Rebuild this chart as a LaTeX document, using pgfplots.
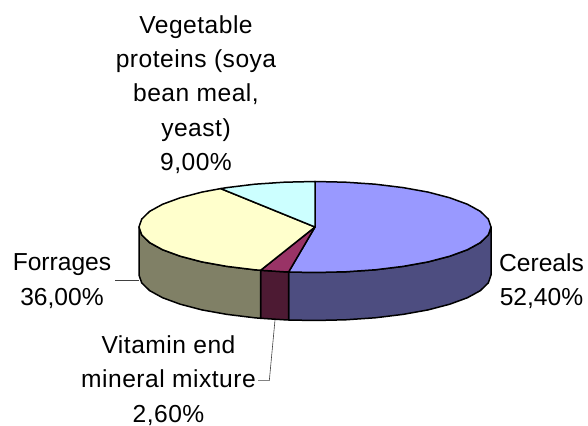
\documentclass[border=0pt]{standalone}
\usepackage{pgfplots}
\pgfplotsset{compat=1.18}
\usepackage{fontspec}
\setmainfont{Liberation Sans}
\definecolor{ctop}{HTML}{9999FF}
\definecolor{cside}{HTML}{4D4D80}
\definecolor{vtop}{HTML}{993366}
\definecolor{vside}{HTML}{4D1A33}
\definecolor{ftop}{HTML}{FFFFCC}
\definecolor{fside}{HTML}{808066}
\definecolor{ptop}{HTML}{CCFFFF}
\tikzset{lab/.style={font=\fontsize{24.6}{34.3}\selectfont, align=center, inner sep=0pt, text=black},
 labw/.style={font=\fontsize{24.6}{34.3}\selectfont\addfontfeature{LetterSpace=2}, align=center, inner sep=0pt, text=black}}
\begin{document}
\begin{tikzpicture}
\useasboundingbox (0,0) rectangle (588pt,425pt);
\begin{axis}[
  at={(0,0)}, anchor=south west,
  scale only axis, width=588pt, height=425pt,
  xmin=0, xmax=588, ymin=0, ymax=425,
  hide axis, clip=false,
  every axis plot/.append style={line width=1.5pt, draw=black, line join=round}
]
% side faces
\addplot[fill=cside] coordinates {(491,198)(488.3,190.1)(480.4,182.4)(467.4,175.25)(449.8,168.8)(428.1,163.1)(403,158.6)(375.2,155.2)(345.6,153.2)(315,152.5)(288.6,153)(288.6,105)(315,104.5)(345.6,105.2)(375.2,107.2)(403,110.6)(428.1,115.1)(449.8,120.8)(467.4,127.25)(480.4,134.4)(488.3,142.1)(491,150)} -- cycle;
\addplot[fill=vside] coordinates {(288.6,153)(284.4,153.2)(260.6,154.7)(260.6,106.7)(284.4,105.2)(288.6,105)} -- cycle;
\addplot[fill=fside] coordinates {(260.6,154.7)(254.8,155.2)(227,158.6)(201.9,163.1)(180.2,168.8)(162.6,175.25)(149.6,182.4)(141.7,190.1)(139,198)(139,150)(141.7,142.1)(149.6,134.4)(162.6,127.25)(180.2,120.8)(201.9,115.1)(227,110.6)(254.8,107.2)(260.6,106.7)} -- cycle;
% top faces
\addplot[fill=ctop] coordinates {(315,198)(315,243.5)(345.6,242.8)(375.2,240.8)(403,237.4)(428.1,232.9)(449.8,227.2)(467.4,220.75)(480.4,213.6)(488.3,205.9)(491,198)(488.3,190.1)(480.4,182.4)(467.4,175.25)(449.8,168.8)(428.1,163.1)(403,158.6)(375.2,155.2)(345.6,153.2)(315,152.5)(288.6,153)} -- cycle;
\addplot[fill=vtop] coordinates {(315,198)(288.6,153)(284.4,153.2)(260.6,154.7)} -- cycle;
\addplot[fill=ftop] coordinates {(315,198)(260.6,154.7)(254.8,155.2)(227,158.6)(201.9,163.1)(180.2,168.8)(162.6,175.25)(149.6,182.4)(141.7,190.1)(139,198)(141.7,205.9)(149.6,213.6)(162.6,220.75)(180.2,227.2)(201.9,232.9)(220.7,236.4)} -- cycle;
\addplot[fill=ptop] coordinates {(315,198)(220.7,236.4)(227,237.4)(254.8,240.8)(284.4,242.8)(315,243.5)} -- cycle;
% leaders
\addplot[draw=black!75, line width=0.6pt] coordinates {(115,144.3)(139,144.3)};
\addplot[draw=black!75, line width=0.6pt] coordinates {(275,105)(269.3,44.3)(258,44.3)};
% labels
\node[labw] at (axis cs:196,330.5) {Vegetable\\proteins (soya\\bean meal,\\yeast)\\9,00\%};
\node[lab] at (axis cs:62,144) {Forrages\\36,00\%};
\node[lab] at (axis cs:541.5,144) {Cereals\\52,40\%};
\node[labw] at (axis cs:168.5,44.5) {Vitamin end\\mineral mixture\\2,60\%};
\end{axis}
\end{tikzpicture}
\end{document}
